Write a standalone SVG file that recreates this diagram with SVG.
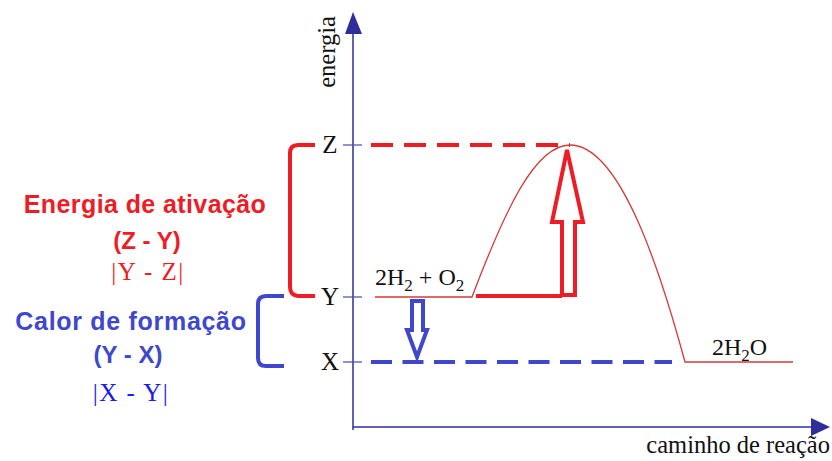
<svg xmlns="http://www.w3.org/2000/svg" width="832" height="461" viewBox="0 0 832 461">
<style>
.axis{stroke:#2e2e9a;stroke-width:1.5;fill:none}
.tick{stroke:#4a4ab0;stroke-width:1.2}
.serif{font-family:"Liberation Serif","DejaVu Serif",serif}
.sans{font-family:"Liberation Sans",Arial,sans-serif;font-weight:bold}
.lvl{font-size:25px;fill:#111}
.red{fill:#ee1c25}
.blue{fill:#3f48cc}
.rstroke{stroke:#ee1c25;fill:none;stroke-width:4}
.bstroke{stroke:#3f48cc;fill:none;stroke-width:4}
</style>
<rect width="832" height="461" fill="#fff"/>
<g id="axes">
<line class="axis" x1="353" y1="430" x2="353" y2="30"/>
<polygon points="353,12 345,34 362,34" fill="#2e2e9a"/>
<line class="axis" x1="353" y1="427" x2="814" y2="427"/>
<polygon points="830,427 811,418 811,436" fill="#2e2e9a"/>
<line class="tick" x1="343" y1="145" x2="362" y2="145"/>
<line class="tick" x1="343" y1="297" x2="362" y2="297"/>
<line class="tick" x1="343" y1="362" x2="362" y2="362"/>
<text class="serif" font-size="24.5" fill="#111" transform="translate(335,52) rotate(-90)" text-anchor="middle">energia</text>
<text class="serif" font-size="24.5" fill="#111" x="830" y="453" text-anchor="end">caminho de reação</text>
<text class="serif lvl" x="330" y="153" text-anchor="middle">Z</text>
<text class="serif lvl" x="330" y="305" text-anchor="middle">Y</text>
<text class="serif lvl" x="330" y="370" text-anchor="middle">X</text>
</g>
<g id="connectors">
<line class="rstroke" x1="371" y1="145" x2="570" y2="145" stroke-dasharray="22,11"/>
<line class="bstroke" x1="371" y1="362" x2="672" y2="362" stroke-dasharray="21,10.5" stroke-width="3.5"/>
<path d="M375,297 H472 C505,210 535,145 570,145 C620,145 660,270 685,362 H793" fill="none" stroke="#d33a3a" stroke-width="1.3"/>
<line class="rstroke" x1="476" y1="296" x2="562" y2="296"/>
</g>
<g id="arrow-activation">
<path class="rstroke" stroke-width="3.5" d="M562,295 V222 H552 L567,150 L583,222 H575 V295 Z"/>
</g>
<g id="arrow-formation">
<path class="bstroke" stroke-width="3" d="M412,301 H423 V330 H427 L417,357 L407,330 H412 Z"/>
</g>
<g id="bracket-activation">
<path class="rstroke" d="M315,145 H298 Q290,145 290,153 V287 Q290,295 298,296 H315"/>
</g>
<g id="bracket-formation">
<path class="bstroke" d="M284,296 H266 Q258,296 258,304 V358 Q258,366 266,366 H284"/>
</g>
<g id="label-activation">
<text class="sans red" font-size="25" letter-spacing="0.4" x="145" y="213" text-anchor="middle">Energia de ativação</text>
<text class="sans red" font-size="24" x="147" y="249" text-anchor="middle">(Z - Y)</text>
<text class="serif red" font-size="25" x="148" y="280" text-anchor="middle" letter-spacing="1.5">|Y - Z|</text>
</g>
<g id="label-formation">
<text class="sans blue" font-size="25" letter-spacing="0.7" x="131" y="330" text-anchor="middle">Calor de formação</text>
<text class="sans blue" font-size="24" x="128" y="363" text-anchor="middle">(Y - X)</text>
<text class="serif" font-size="25" fill="#1a1aee" x="131" y="401" text-anchor="middle" letter-spacing="1.5">|X - Y|</text>
</g>
<g id="reactants">
<text class="serif" font-size="24" fill="#111" x="375" y="285">2H<tspan font-size="17" dy="6">2</tspan><tspan dy="-6"> + O</tspan><tspan font-size="17" dy="6">2</tspan></text>
</g>
<g id="product">
<text class="serif" font-size="24" fill="#111" x="712" y="355">2H<tspan font-size="17" dy="6">2</tspan><tspan dy="-6">O</tspan></text>
</g>
</svg>
